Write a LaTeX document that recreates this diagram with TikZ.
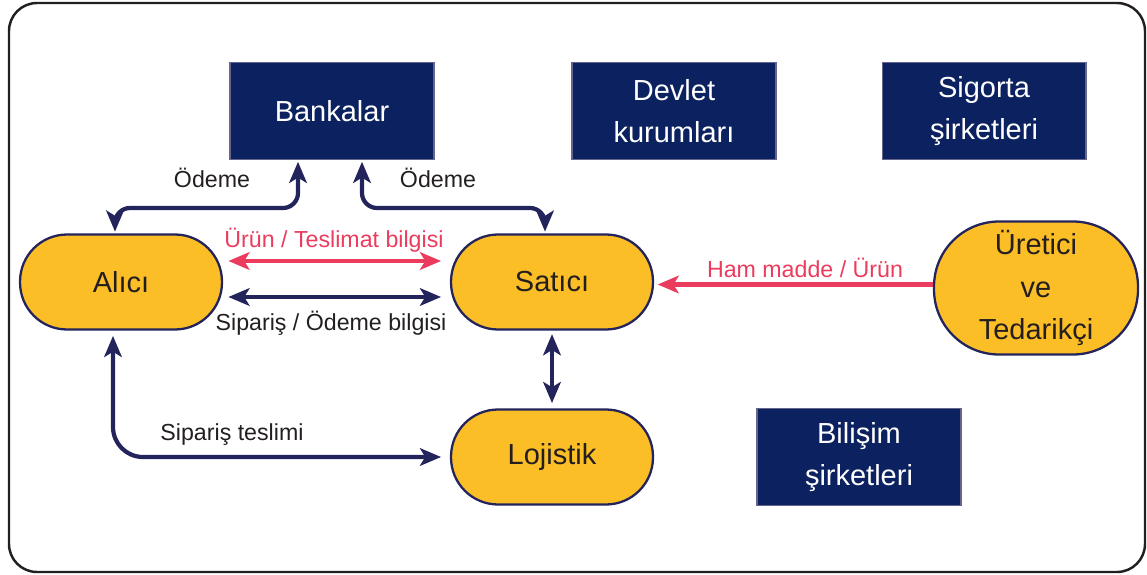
\documentclass[tikz,border=0pt]{standalone}
\usepackage{fontspec}
\setmainfont{Liberation Sans}
\usetikzlibrary{arrows.meta}

\definecolor{lacivert}{RGB}{12,34,96}
\definecolor{mor}{RGB}{36,36,92}
\definecolor{sari}{RGB}{252,190,38}
\definecolor{kirmizi}{RGB}{235,60,94}
\definecolor{yazi}{RGB}{35,31,32}

\tikzset{
  kurum/.style={draw=mor!70, line width=0.6pt, fill=lacivert, text=white,
    minimum width=4.08cm, minimum height=1.94cm, align=center,
    font=\fontsize{16.5}{24}\selectfont},
  aktor/.style={draw=mor, line width=1.3pt, fill=sari, text=yazi,
    minimum width=4.04cm, minimum height=1.9cm, rounded corners=0.94cm,
    align=center, font=\fontsize{16.5}{24}\selectfont},
  ok/.style={draw=mor, line width=2.4pt, {Stealth[length=12pt,width=10pt,inset=3pt]}-{Stealth[length=12pt,width=10pt,inset=3pt]}},
  kirmiziok/.style={ok, draw=kirmizi},
  etiket/.style={text=yazi, font=\fontsize{13.2}{16}\selectfont}
}

\begin{document}
\begin{tikzpicture}[x=0.02cm, y=-0.02cm]
\useasboundingbox (0,0) rectangle (1147,575);
\draw[yazi, line width=1.4pt, rounded corners=0.56cm] (9,3) rectangle (1145,572);

% kurumlar
\node[kurum] (banka) at (332,111) {Bankalar};
\node[kurum] (devlet) at (674,111) {Devlet\\kurumları};
\node[kurum] (sigorta) at (984,111) {Sigorta\\şirketleri};
\node[kurum] (bilisim) at (859,457) {Bilişim\\şirketleri};

% aktorler
\node[aktor] (alici) at (121,282) {Alıcı};
\node[aktor] (satici) at (552,282) {Satıcı};
\node[aktor] (lojistik) at (552,457) {Lojistik};
\node[aktor, minimum width=4.08cm, minimum height=2.66cm, rounded corners=1.3cm]
  (uretici) at (1036,288) {Üretici\\ve\\Tedarikçi};

% oklar
\draw[ok, rounded corners=0.3cm, shorten <=1pt, shorten >=1pt]
  ([xshift=-0.12cm]alici.north) |- (298,208) -- ([xshift=-0.68cm]banka.south);
\draw[ok, rounded corners=0.3cm, shorten <=1pt, shorten >=1pt]
  ([xshift=0.6cm]banka.south) |- (545,208) -- ([xshift=-0.14cm]satici.north);
\draw[kirmiziok, shorten <=3pt, shorten >=5pt]
  ([yshift=0.42cm]alici.east) -- ([yshift=0.42cm]satici.west);
\draw[ok, shorten <=3pt, shorten >=5pt]
  ([yshift=-0.3cm]alici.east) -- ([yshift=-0.3cm]satici.west);
\draw[ok, shorten <=2pt, shorten >=3pt] (satici.south) -- (lojistik.north);
\draw[ok, rounded corners=0.6cm, shorten <=3pt, shorten >=5pt]
  ([xshift=-0.16cm]alici.south) |- (lojistik.west);
\coordinate (hamuc) at ([yshift=0.07cm]uretici.west);
\draw[kirmiziok, {Stealth[length=12pt,width=10pt,inset=3pt]}-, shorten <=2pt]
  (satici.east |- hamuc) -- (hamuc);

% etiketler
\node[etiket] (odeme1) at (212,178) {Ödeme};
\node[etiket] (odeme2) at (438,178) {Ödeme};
\node[etiket, text=kirmizi] (urun) at (334,240) {Ürün / Teslimat bilgisi};
\node[etiket] (siparis) at (331,323) {Sipariş / Ödeme bilgisi};
\node[etiket] (teslim) at (232,435) {Sipariş teslimi};
\node[etiket, text=kirmizi] (hammadde) at (805,268) {Ham madde / Ürün};
\end{tikzpicture}
\end{document}
